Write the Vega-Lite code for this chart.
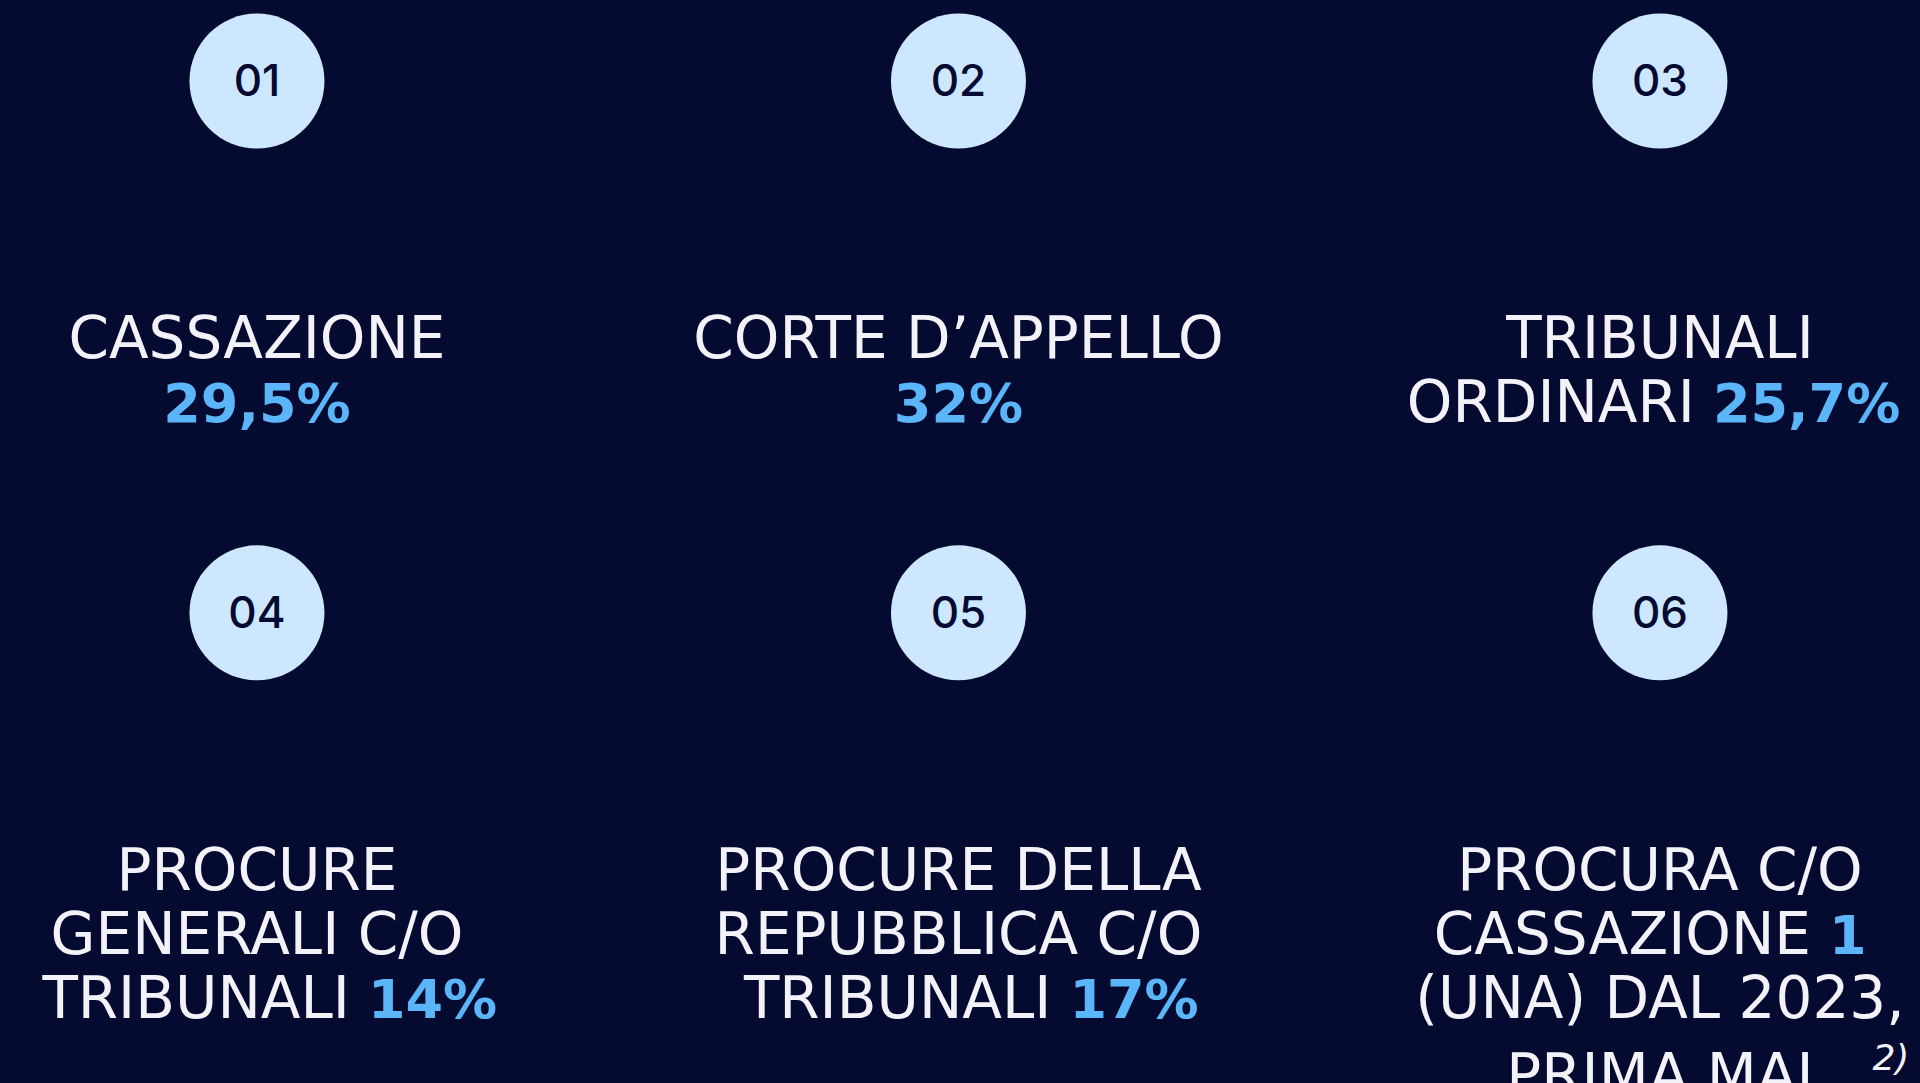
{
  "$schema": "https://vega.github.io/schema/vega-lite/v6.json",
  "width": 1920,
  "height": 1083,
  "autosize": "none",
  "padding": 0,
  "background": "#050A30",
  "config": {"view": {"stroke": null}},
  "datasets": {
    "items": [
      {"num": "01", "col": 1, "row": 1},
      {"num": "02", "col": 2, "row": 1},
      {"num": "03", "col": 3, "row": 1},
      {"num": "04", "col": 1, "row": 2},
      {"num": "05", "col": 2, "row": 2},
      {"num": "06", "col": 3, "row": 2}
    ],
    "lines": [
      {"col": 1, "row": 1, "line": 0, "label": "CASSAZIONE"},
      {"col": 1, "row": 1, "line": 1, "value": "29,5%"},
      {"col": 2, "row": 1, "line": 0, "label": "CORTE D’APPELLO"},
      {"col": 2, "row": 1, "line": 1, "value": "32%"},
      {"col": 3, "row": 1, "line": 0, "label": "TRIBUNALI"},
      {"col": 3, "row": 1, "line": 1, "label": "ORDINARI", "value": "25,7%"},
      {"col": 1, "row": 2, "line": 0, "label": "PROCURE"},
      {"col": 1, "row": 2, "line": 1, "label": "GENERALI C/O"},
      {"col": 1, "row": 2, "line": 2, "label": "TRIBUNALI", "value": "14%"},
      {"col": 2, "row": 2, "line": 0, "label": "PROCURE DELLA"},
      {"col": 2, "row": 2, "line": 1, "label": "REPUBBLICA C/O"},
      {"col": 2, "row": 2, "line": 2, "label": "TRIBUNALI", "value": "17%"},
      {"col": 3, "row": 2, "line": 0, "label": "PROCURA C/O"},
      {"col": 3, "row": 2, "line": 1, "label": "CASSAZIONE", "value": "1"},
      {"col": 3, "row": 2, "line": 2, "label": "(UNA) DAL 2023,"},
      {"col": 3, "row": 2, "line": 3, "label": "PRIMA MAI", "note": "2)"}
    ]
  },
  "layer": [
    {
      "data": {"name": "items"},
      "transform": [
        {"calculate": "datum.col", "as": "cx"},
        {"calculate": "(datum.row - 1) * 8.31 - 4.328", "as": "cy"}
      ],
      "mark": {"type": "point", "shape": "circle", "filled": true, "size": 18225, "color": "#CCE7FF", "opacity": 1, "strokeWidth": 0},
      "encoding": {
        "x": {"field": "cx", "type": "quantitative", "scale": {"domain": [0.6337, 3.3707], "nice": false, "zero": false}, "axis": null},
        "y": {"field": "cy", "type": "quantitative", "scale": {"domain": [-5.594, 11.328], "nice": false, "zero": false, "reverse": true}, "axis": null}
      }
    },
    {
      "data": {"name": "items"},
      "transform": [
        {"calculate": "datum.col", "as": "cx"},
        {"calculate": "(datum.row - 1) * 8.31 - 4.328", "as": "cy"}
      ],
      "mark": {"type": "text", "align": "center", "baseline": "alphabetic", "dy": 15, "font": "Inter", "fontSize": 44, "fontWeight": 500, "color": "#050A30"},
      "encoding": {
        "x": {"field": "cx", "type": "quantitative", "axis": null},
        "y": {"field": "cy", "type": "quantitative", "axis": null},
        "text": {"field": "num"}
      }
    },
    {
      "data": {"name": "lines"},
      "transform": [
        {"filter": "datum.label && !datum.value"},
        {"calculate": "datum.col", "as": "cx"},
        {"calculate": "(datum.row - 1) * 8.31 + datum.line + (datum.note ? 0.2 : 0)", "as": "cy"}
      ],
      "mark": {"type": "text", "align": "center", "baseline": "alphabetic", "font": "DejaVu Sans", "fontSize": 58, "fontWeight": 400, "color": "#F2F2F8"},
      "encoding": {
        "x": {"field": "cx", "type": "quantitative", "axis": null},
        "y": {"field": "cy", "type": "quantitative", "axis": null},
        "text": {"field": "label"}
      }
    },
    {
      "data": {"name": "lines"},
      "transform": [
        {"filter": "datum.label && datum.value"},
        {"calculate": "(length(datum.label) * 36 - 18 - length(datum.value) * 40) / 2", "as": "off"},
        {"calculate": "datum.col + datum.off / 701.5", "as": "cx"},
        {"calculate": "(datum.row - 1) * 8.31 + datum.line", "as": "cy"}
      ],
      "mark": {"type": "text", "align": "right", "baseline": "alphabetic", "font": "DejaVu Sans", "fontSize": 58, "fontWeight": 400, "color": "#F2F2F8"},
      "encoding": {
        "x": {"field": "cx", "type": "quantitative", "axis": null},
        "y": {"field": "cy", "type": "quantitative", "axis": null},
        "text": {"field": "label"}
      }
    },
    {
      "data": {"name": "lines"},
      "transform": [
        {"filter": "datum.value && !datum.label"},
        {"calculate": "datum.col", "as": "cx"},
        {"calculate": "(datum.row - 1) * 8.31 + datum.line", "as": "cy"}
      ],
      "mark": {"type": "text", "align": "center", "baseline": "alphabetic", "font": "DejaVu Sans", "fontSize": 54, "fontWeight": "bold", "color": "#5BB5F9"},
      "encoding": {
        "x": {"field": "cx", "type": "quantitative", "axis": null},
        "y": {"field": "cy", "type": "quantitative", "axis": null},
        "text": {"field": "value"}
      }
    },
    {
      "data": {"name": "lines"},
      "transform": [
        {"filter": "datum.value && datum.label"},
        {"calculate": "(length(datum.label) * 36 - 18 - length(datum.value) * 40) / 2 + 18", "as": "off"},
        {"calculate": "datum.col + datum.off / 701.5", "as": "cx"},
        {"calculate": "(datum.row - 1) * 8.31 + datum.line", "as": "cy"}
      ],
      "mark": {"type": "text", "align": "left", "baseline": "alphabetic", "font": "DejaVu Sans", "fontSize": 54, "fontWeight": "bold", "color": "#5BB5F9"},
      "encoding": {
        "x": {"field": "cx", "type": "quantitative", "axis": null},
        "y": {"field": "cy", "type": "quantitative", "axis": null},
        "text": {"field": "value"}
      }
    },
    {
      "data": {"name": "lines"},
      "transform": [
        {"filter": "datum.note"},
        {"calculate": "length(datum.label) * 35 / 2 + 55", "as": "off"},
        {"calculate": "datum.col + datum.off / 701.5", "as": "cx"},
        {"calculate": "(datum.row - 1) * 8.31 + datum.line + 0.2", "as": "cy"}
      ],
      "mark": {"type": "text", "align": "left", "baseline": "alphabetic", "dy": -25, "font": "DejaVu Sans", "fontSize": 36, "fontStyle": "italic", "color": "#F2F2F8"},
      "encoding": {
        "x": {"field": "cx", "type": "quantitative", "axis": null},
        "y": {"field": "cy", "type": "quantitative", "axis": null},
        "text": {"field": "note"}
      }
    }
  ]
}
